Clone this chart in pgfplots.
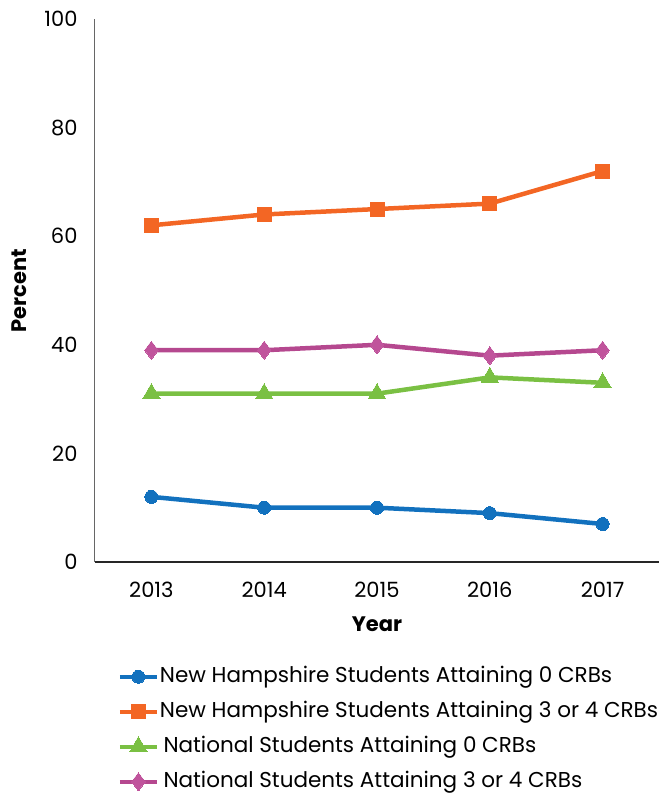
\documentclass[border=0pt]{standalone}
\usepackage{fontspec}
\setmainfont{Poppins}
\usepackage{pgfplots}
\pgfplotsset{compat=1.18}

\definecolor{nhzero}{RGB}{18,113,190}
\definecolor{nhthree}{RGB}{243,102,36}
\definecolor{natzero}{RGB}{122,192,67}
\definecolor{natthree}{RGB}{181,72,143}
\definecolor{natthreemk}{RGB}{192,84,156}

\begin{document}
\begin{tikzpicture}
  \begin{axis}[
        scale only axis,
        width=564bp, height=543bp,
        xmin=2012.5, xmax=2017.5,
        ymin=0, ymax=100,
        xtick={2013,2014,2015,2016,2017},
        ytick={0,20,40,60,80,100},
        axis x line*=bottom,
        axis y line*=left,
        x axis line style={draw=black!85, line width=1.1bp},
        y axis line style={draw=black!60, line width=1bp},
        major tick length=0pt,
        clip=false,
        font=\fontsize{21bp}{25bp}\selectfont,
        /pgf/number format/assume math mode=true,
        /pgf/number format/1000 sep={},
        yticklabel style={xshift=-14bp},
        xticklabel style={yshift=-17bp, text height=15bp, text depth=0bp},
        xlabel={\bfseries Year},
        ylabel={\bfseries Percent},
        xlabel style={yshift=-12bp},
        ylabel style={yshift=11bp},
        every axis plot/.append style={line width=4.5bp},
        legend cell align=left,
        legend style={
            at={(0.035,-0.188)},
            anchor=north west,
            draw=none, fill=none,
            font=\fontsize{21.5bp}{25bp}\selectfont,
            row sep=14bp,
            nodes={inner sep=1bp, text height=15bp, text depth=4bp},
        },
        legend image code/.code={
            \draw[mark repeat=2, mark phase=2, line width=4bp]
              plot coordinates {(0bp,0bp) (18.5bp,0bp) (37bp,0bp)};
        },
    ]
    \addplot[color=nhzero, mark=*, mark size=6.5bp,
             mark options={fill=nhzero, draw=nhzero, line width=0bp}]
      coordinates {(2013,12)(2014,10)(2015,10)(2016,9)(2017,7)};
    \addlegendentry{New Hampshire Students Attaining 0 CRBs}
    \addplot[color=nhthree, mark=square*, mark size=7bp,
             mark options={fill=nhthree, draw=nhthree, line width=0bp}]
      coordinates {(2013,62)(2014,64)(2015,65)(2016,66)(2017,72)};
    \addlegendentry{New Hampshire Students Attaining 3 or 4 CRBs}
    \addplot[color=natzero, mark=triangle*, mark size=10bp,
             mark options={fill=natzero, draw=natzero, line width=0bp}]
      coordinates {(2013,31)(2014,31)(2015,31)(2016,34)(2017,33)};
    \addlegendentry{\,National Students Attaining 0 CRBs}
    \addplot[color=natthree, mark=diamond*, mark size=9bp,
             mark options={fill=natthreemk, draw=natthreemk, line width=0bp}]
      coordinates {(2013,39)(2014,39)(2015,40)(2016,38)(2017,39)};
    \addlegendentry{\,National Students Attaining 3 or 4 CRBs}
  \end{axis}
  \pgfresetboundingbox
  \useasboundingbox (-95bp,-233bp) rectangle (564bp,562bp);
\end{tikzpicture}
\end{document}
